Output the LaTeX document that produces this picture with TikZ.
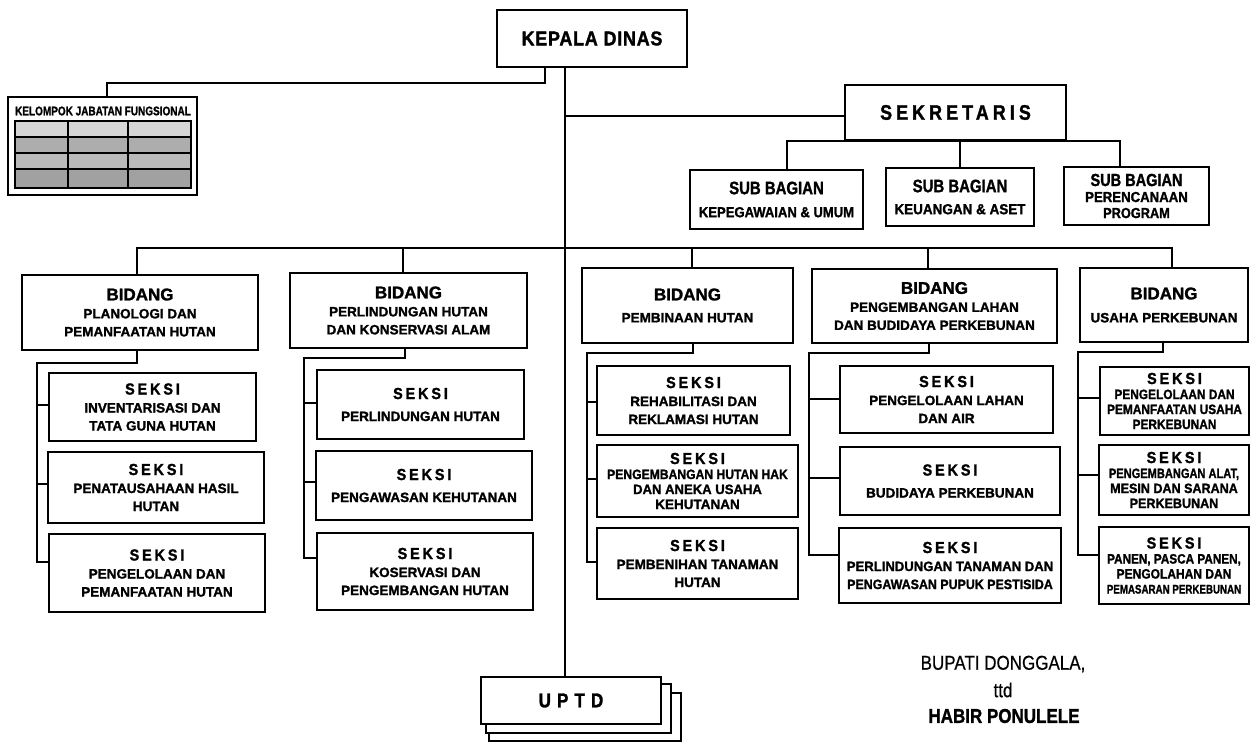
\documentclass[tikz,border=0pt]{standalone}
\usepackage{fontspec}
\usepackage{graphicx}
\setmainfont{Liberation Sans}[UprightFeatures={FakeBold=0.6},BoldFeatures={FakeBold=1.5}]
\newcommand\fsz[2]{\fontsize{#1}{#2}\selectfont}
\newcommand\hsc[2]{\scalebox{#1}[1]{#2}}
\newcommand\spaced[2]{{\addfontfeature{LetterSpace=#1}#2}}
\newcommand\bidang{{\fsz{17}{18}BIDANG}}
\newcommand\seksi{\hsc{0.9}{\fsz{16}{18}\spaced{20}{SEKSI}}}
\newcommand\subbag[1][18]{\hsc{0.83}{\fsz{#1}{20}SUB BAGIAN}}
% box from corner (x1,y1) to corner (x2,y2), y measured downwards
\newcommand\orgbox[7][]{\node[obox,#1,minimum width={(#5-#3)*1pt},minimum height={(#6-#4)*1pt}] (#2) at ({(#3+#5)/2},{(#4+#6)/2}) {#7};}

\begin{document}
\begin{tikzpicture}[x=1pt,y=-1pt,
  obox/.style={draw,line width=2.4pt,fill=white,inner sep=0pt,align=center,font=\bfseries\fsz{13.5}{18}},
  oline/.style={line width=2pt},
  cellline/.style={line width=2pt}]
\fill[white] (0,0) rectangle (1252,743);
\useasboundingbox (0,0) rectangle (1252,743);

% ---------- top level ----------
\orgbox{kd}{497}{10}{687}{67}{\hsc{0.9}{\fsz{20}{22}\spaced{4}{KEPALA DINAS}}}
\orgbox{sek}{845}{85}{1066}{140}{\hsc{0.85}{\fsz{21}{22}\spaced{23}{SEKRETARIS}}}

% ---------- functional group with its table ----------
\orgbox{kjf}{8}{97}{197}{195}{}
\node[font=\bfseries\fsz{12.5}{12},inner sep=0pt] (kjft) at (103,111) {\hsc{0.8}{KELOMPOK JABATAN FUNGSIONAL}};
\fill[black!16] (15,121) rectangle (191,137);
\fill[black!32] (15,137) rectangle (191,153);
\fill[black!27] (15,153) rectangle (191,169);
\fill[black!37] (15,169) rectangle (191,188);
\draw[cellline] (15,121) rectangle (191,188);
\draw[cellline] (68,121) -- (68,188) (128,121) -- (128,188);
\draw[cellline] (15,137) -- (191,137) (15,153) -- (191,153) (15,169) -- (191,169);

% ---------- sub sections of the secretariat ----------
\orgbox[font=\bfseries\fsz{14.5}{23}]{sb1}{690}{170}{863}{229}{\subbag\\\hsc{0.9}{KEPEGAWAIAN \& UMUM}}
\orgbox[font=\bfseries\fsz{14.5}{22}]{sb2}{886}{168}{1034}{226}{\subbag\\\hsc{0.93}{KEUANGAN \& ASET}}
\orgbox[font=\bfseries\fsz{14.5}{16}]{sb3}{1064}{167}{1209}{225}{\subbag[17.5]\\\hsc{0.91}{PERENCANAAN}\\\hsc{0.88}{PROGRAM}}

% ---------- fields ----------
\orgbox{b1}{22}{275}{258}{350}{\bidang\\PLANOLOGI DAN\\PEMANFAATAN HUTAN}
\orgbox{b2}{290}{273}{527}{348}{\bidang\\PERLINDUNGAN HUTAN\\DAN KONSERVASI ALAM}
\orgbox[font=\bfseries\fsz{13.5}{22}]{b3}{582}{268}{793}{343}{\bidang\\PEMBINAAN HUTAN}
\orgbox{b4}{812}{269}{1057}{343}{\bidang\\PENGEMBANGAN LAHAN\\DAN BUDIDAYA PERKEBUNAN}
\orgbox[font=\bfseries\fsz{13.5}{23}]{b5}{1080}{268}{1248}{342}{\bidang\\USAHA PERKEBUNAN}

% ---------- sections ----------
\orgbox{s11}{49}{373}{256}{441}{\seksi\\INVENTARISASI DAN\\TATA GUNA HUTAN}
\orgbox{s12}{48}{452}{264}{523}{\seksi\\PENATAUSAHAAN HASIL\\HUTAN}
\orgbox{s13}{49}{534}{265}{612}{\seksi\\PENGELOLAAN DAN\\PEMANFAATAN HUTAN}

\orgbox[font=\bfseries\fsz{13.5}{22}]{s21}{317}{370}{524}{439}{\seksi\\PERLINDUNGAN HUTAN}
\orgbox[font=\bfseries\fsz{13.5}{22}]{s22}{316}{451}{532}{520}{\seksi\\PENGAWASAN KEHUTANAN}
\orgbox{s23}{317}{533}{533}{610}{\seksi\\KOSERVASI DAN\\PENGEMBANGAN HUTAN}

\orgbox{s31}{597}{366}{790}{435}{\seksi\\REHABILITASI DAN\\REKLAMASI HUTAN}
\orgbox[font=\bfseries\fsz{13.5}{15}]{s32}{597}{445}{798}{517}{\seksi\\\hsc{0.9}{PENGEMBANGAN HUTAN HAK}\\\hsc{0.97}{DAN ANEKA USAHA}\\KEHUTANAN}
\orgbox{s33}{597}{528}{798}{599}{\seksi\\PEMBENIHAN TANAMAN\\HUTAN}

\orgbox{s41}{840}{366}{1053}{433}{\seksi\\PENGELOLAAN LAHAN\\DAN AIR}
\orgbox[font=\bfseries\fsz{13.5}{22}]{s42}{840}{447}{1060}{515}{\seksi\\BUDIDAYA PERKEBUNAN}
\orgbox{s43}{839}{528}{1061}{603}{\seksi\\\hsc{0.97}{PERLINDUNGAN TANAMAN DAN}\\\hsc{0.92}{PENGAWASAN PUPUK PESTISIDA}}

\orgbox[font=\bfseries\fsz{13.5}{15}]{s51}{1100}{367}{1249}{435}{\seksi\\\hsc{0.88}{PENGELOLAAN DAN}\\\hsc{0.88}{PEMANFAATAN USAHA}\\\hsc{0.88}{PERKEBUNAN}}
\orgbox[font=\bfseries\fsz{13.5}{15}]{s52}{1099}{445}{1249}{515}{\seksi\\\hsc{0.82}{PENGEMBANGAN ALAT,}\\\hsc{0.93}{MESIN DAN SARANA}\\\hsc{0.93}{PERKEBUNAN}}
\orgbox[font=\bfseries\fsz{13.5}{15}]{s53}{1099}{527}{1249}{604}{\seksi\\\hsc{0.87}{PANEN, PASCA PANEN,}\\\hsc{0.89}{PENGOLAHAN DAN}\\\hsc{0.78}{\fsz{12.5}{14}PEMASARAN PERKEBUNAN}}

% ---------- technical units (stacked) ----------
\draw[line width=2.4pt,fill=white] (489,693) rectangle (681,741);
\draw[line width=2.4pt,fill=white] (486,684) rectangle (671,733);
\orgbox{uptd}{481}{677}{661}{724}{\hsc{0.85}{\fsz{20}{20}\spaced{36}{UPTD}}}

% ---------- signature ----------
\node[font=\fsz{20}{20},inner sep=0pt] (bup) at (1003,664) {\hsc{0.85}{BUPATI DONGGALA,}};
\node[font=\fsz{20}{20},inner sep=0pt] (ttd) at (1003,690) {\hsc{0.85}{ttd}};
\node[font=\bfseries\fsz{20}{20},inner sep=0pt] (hab) at (1004,716) {\hsc{0.85}{HABIR PONULELE}};

% ---------- connectors ----------
\coordinate (tr) at (565,0);
\draw[oline] (kd.south -| tr) -- (uptd.north -| tr);

\coordinate (kj1) at (545,0);
\coordinate (kj2) at (107,83);
\draw[oline] (kd.south -| kj1) |- (kj2) -- (kj2 |- kjf.north);

\coordinate (sj) at (565,116);
\draw[oline] (sj) -- (sj -| sek.west);

\coordinate (sbl) at (787,141);
\coordinate (sbr) at (1120,141);
\draw[oline] (sbl |- sb1.north) -- (sbl) -- (sbr) -- (sbr |- sb3.north);
\draw[oline] (sek.south -| sb2.north) -- (sb2.north);

\coordinate (bl) at (137,248);
\coordinate (br) at (1172,248);
\coordinate (bx2) at (403,248);
\coordinate (bx3) at (692,248);
\coordinate (bx4) at (928,248);
\draw[oline] (bl |- b1.north) -- (bl) -- (br) -- (br |- b5.north);
\draw[oline] (bx2) -- (bx2 |- b2.north);
\draw[oline] (bx3) -- (bx3 |- b3.north);
\draw[oline] (bx4) -- (bx4 |- b4.north);

\foreach \c/\d/\e/\s/\ya/\yb/\yc in {1/137/363/37/405/484/562, 2/405/358/304/403/482/558,
    3/693/353/587/402/479/562, 4/929/353/809/399/478/555, 5/1163/352/1078/398/475/555}{
  \coordinate (el\c) at (\d,\e);
  \coordinate (sp\c) at (\s,\e);
  \coordinate (qa\c) at (\s,\ya);
  \coordinate (qb\c) at (\s,\yb);
  \coordinate (qc\c) at (\s,\yc);
  \draw[oline] (b\c.south -| el\c) -- (el\c) -- (sp\c) -- (qc\c) -- (qc\c -| s\c3.west);
  \draw[oline] (qa\c) -- (qa\c -| s\c1.west);
  \draw[oline] (qb\c) -- (qb\c -| s\c2.west);
}
\end{tikzpicture}
\end{document}
